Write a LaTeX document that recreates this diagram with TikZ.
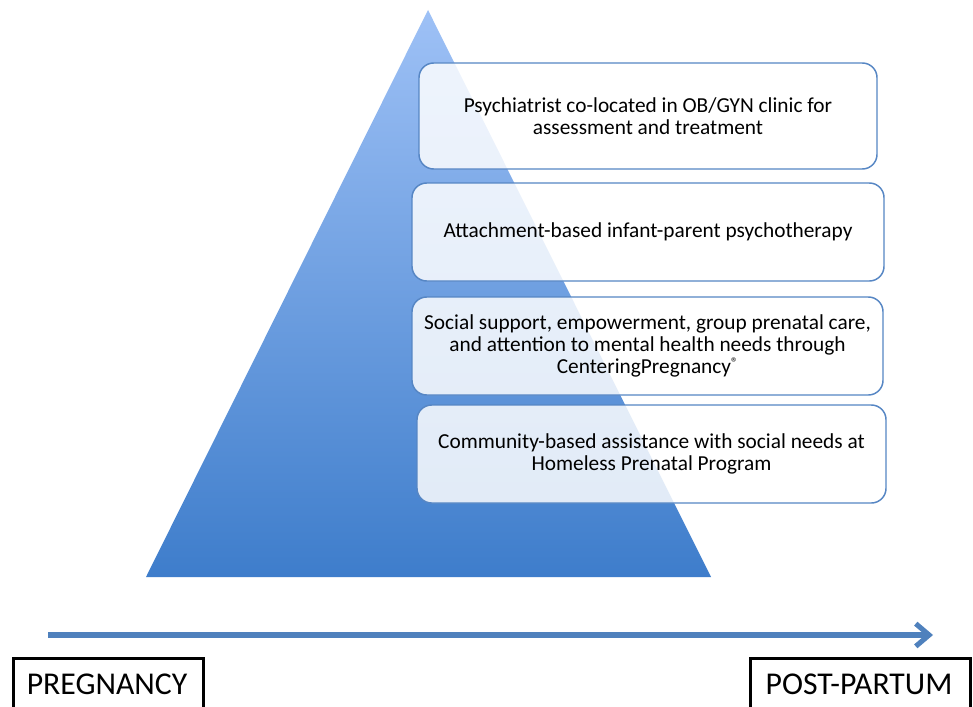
\documentclass[tikz,border=0pt]{standalone}
\usepackage{fontspec}
\setmainfont{Carlito}
\usetikzlibrary{arrows.meta}
\definecolor{pyrtop}{RGB}{158,193,246}
\definecolor{pyrbot}{RGB}{62,125,203}
\definecolor{boxline}{RGB}{86,134,196}
\definecolor{axis}{RGB}{79,129,189}
\newcommand{\regmark}{\raisebox{0.6ex}{\fontsize{10.5}{10.5}\selectfont\textregistered}}
\tikzset{
  tier/.style={draw=boxline, line width=1.1pt, rounded corners=11pt,
    fill=white, fill opacity=0.84, text opacity=1, align=center,
    inner sep=0pt, font=\fontsize{16}{16.2}\selectfont},
  phase/.style={draw=black, line width=2.2pt, inner sep=0pt},
  phasetext/.style={font=\fontsize{23.8}{26}\selectfont, anchor=base}
}
\begin{document}
\begin{tikzpicture}[x=0.75pt,y=-0.75pt]
  \useasboundingbox (0,0) rectangle (973,706);
  \clip (0,0) rectangle (973,706);
  \fill[white] (0,0) rectangle (973,706);

  % pyramid
  \shade[top color=pyrtop, bottom color=pyrbot]
    (428,10) -- (711,577) -- (146,577) -- cycle;

  % tiers
  \node[tier, minimum width=458*0.75pt, minimum height=106*0.75pt] (t1) at (648,116)
    {Psychiatrist co-located in OB/GYN clinic for\\assessment and treatment};
  \node[tier, minimum width=472*0.75pt, minimum height=98*0.75pt] (t2) at (648,232)
    {Attachment-based infant-parent psychotherapy};
  \node[tier, minimum width=471*0.75pt, minimum height=98*0.75pt] (t3) at (647.5,346)
    {Social support, empowerment, group prenatal care,\\and attention to mental health needs through\\CenteringPregnancy\regmark};
  \node[tier, minimum width=469*0.75pt, minimum height=98*0.75pt] (t4) at (651.5,454)
    {Community-based assistance with social needs at\\Homeless Prenatal Program};

  % time axis
  \coordinate (tstart) at (48,635);
  \coordinate (tend) at (933,635);
  \draw[axis, line width=3.8pt,
    -{Straight Barb[length=10pt, width=17pt, line width=3.8pt]}]
    (tstart) -- (tend);

  % phase labels
  \node[phase, minimum width=190*0.75pt, minimum height=70*0.75pt, anchor=north west] (preg) at (12,657) {};
  \node[phasetext] (pregt) at (107,694) {PREGNANCY};
  \node[phase, minimum width=220*0.75pt, minimum height=70*0.75pt, anchor=north west] (post) at (749,657) {};
  \node[phasetext] (postt) at (859,694) {POST-PARTUM};
\end{tikzpicture}
\end{document}
